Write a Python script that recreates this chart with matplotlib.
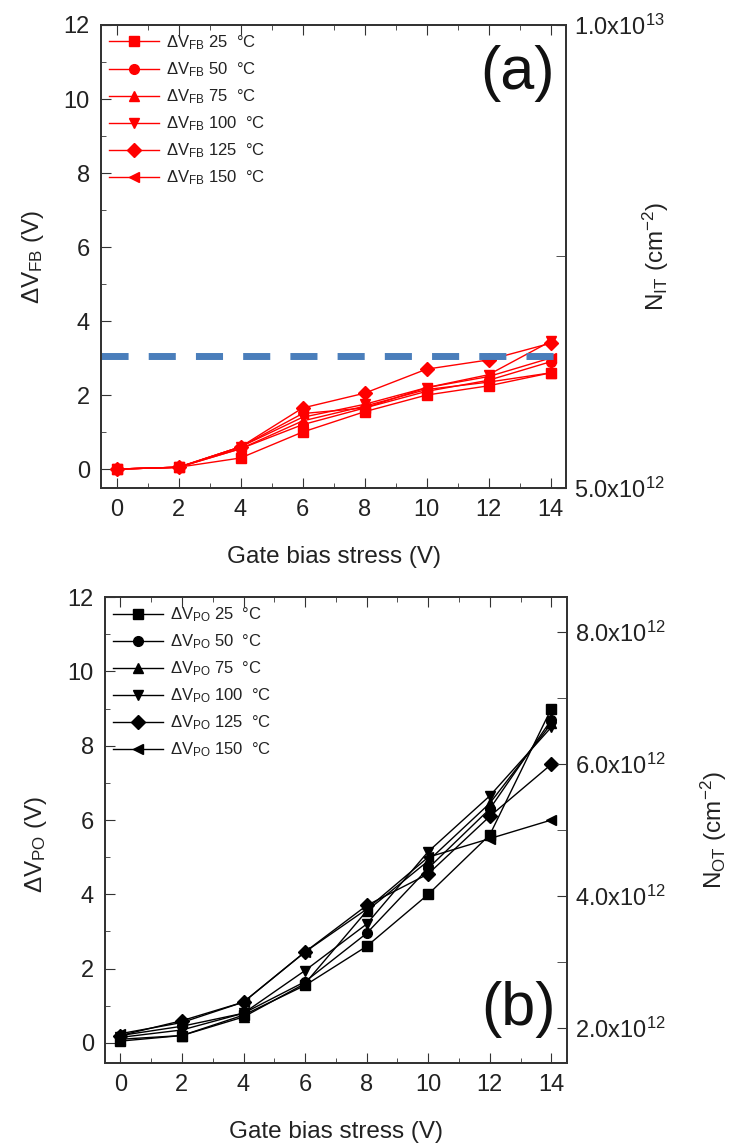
import matplotlib
matplotlib.use("Agg")
import matplotlib.pyplot as plt
from matplotlib.ticker import MultipleLocator, FixedLocator, FuncFormatter

plt.rcParams["font.family"] = ["Liberation Sans", "DejaVu Sans"]
plt.rcParams["mathtext.default"] = "regular"

# Data
stress = [0, 2, 4, 6, 8, 10, 12, 14]
temps = ["25", "50", "75", "100", "125", "150"]
markers = ["s", "o", "^", "v", "D", "<"]

dvfb_25 = [0.0, 0.05, 0.30, 1.00, 1.55, 2.00, 2.25, 2.60]
dvfb_50 = [0.0, 0.05, 0.55, 1.20, 1.65, 2.10, 2.40, 2.90]
dvfb_75 = [0.0, 0.05, 0.55, 1.30, 1.70, 2.15, 2.35, 2.60]
dvfb_100 = [0.0, 0.05, 0.60, 1.40, 1.75, 2.20, 2.55, 3.45]
dvfb_125 = [0.0, 0.05, 0.60, 1.65, 2.05, 2.70, 2.95, 3.40]
dvfb_150 = [0.0, 0.05, 0.60, 1.50, 1.65, 2.20, 2.50, 3.00]
dvfb = [dvfb_25, dvfb_50, dvfb_75, dvfb_100, dvfb_125, dvfb_150]

dvpo_25 = [0.05, 0.20, 0.75, 1.55, 2.60, 4.00, 5.60, 9.00]
dvpo_50 = [0.20, 0.45, 0.80, 1.65, 2.95, 4.70, 6.30, 8.70]
dvpo_75 = [0.10, 0.20, 0.70, 1.60, 3.55, 4.90, 6.45, 8.60]
dvpo_100 = [0.15, 0.35, 0.80, 1.95, 3.20, 5.15, 6.65, 8.50]
dvpo_125 = [0.20, 0.60, 1.10, 2.45, 3.70, 4.55, 6.10, 7.50]
dvpo_150 = [0.25, 0.55, 1.10, 2.45, 3.60, 5.00, 5.50, 6.00]
dvpo = [dvpo_25, dvpo_50, dvpo_75, dvpo_100, dvpo_125, dvpo_150]

threshold = 3.05

fig = plt.figure(figsize=(7.33, 11.46), dpi=100)
ax1 = fig.add_axes([0.1378, 0.5742, 0.6344, 0.404])
ax2 = fig.add_axes([0.1432, 0.0724, 0.630, 0.4066])

frame_col = "#333333"
text_col = "#222222"
TICK_FS = 17
LABEL_FS = 17.5


def style_spines(ax):
    for sp in ax.spines.values():
        sp.set_color(frame_col)
        sp.set_linewidth(1.3)


def style_axis(ax):
    ax.set_xlim(-0.5, 14.5)
    ax.xaxis.set_major_locator(MultipleLocator(2))
    ax.xaxis.set_minor_locator(MultipleLocator(1))
    ax.yaxis.set_major_locator(MultipleLocator(2))
    ax.yaxis.set_minor_locator(MultipleLocator(1))
    ax.tick_params(which="both", direction="in", top=True, right=False,
                   colors=frame_col, labelcolor=text_col, labelsize=TICK_FS)
    ax.tick_params(which="major", length=7, pad=8)
    ax.tick_params(which="minor", length=3.5, pad=8)
    style_spines(ax)
    ax.set_xlabel("Gate bias stress (V)", fontsize=LABEL_FS, color=text_col)
    ax.xaxis.set_label_coords(0.5, -0.125)


def sci_fmt(v, pos):
    exp = len(str(int(round(v)))) - 1
    return "%.1fx10$^{%d}$" % (v / 10 ** exp, exp)


def style_right(r):
    r.yaxis.set_major_formatter(FuncFormatter(sci_fmt))
    r.tick_params(which="both", direction="in", colors=frame_col,
                  labelcolor=text_col, labelsize=TICK_FS, length=7, pad=6)
    style_spines(r)


leg_kw = dict(loc="upper left", frameon=False, fontsize=12, handlelength=3.0,
              labelspacing=0.5, borderaxespad=0.0, borderpad=0.5,
              handletextpad=0.4, labelcolor=text_col)

# (a) flat-band voltage shift
for vals, t, m in zip(dvfb, temps, markers):
    ax1.plot(stress, vals, color="red", linewidth=1, marker=m, markersize=7,
             label="ΔV$_{FB}$ %s  °C" % t)
ax1.axhline(threshold, color="#4a7ebb", linewidth=5, linestyle=(0, (3.9, 2.9)))
style_axis(ax1)
ax1.set_ylim(-0.51, 12.0)
ax1.set_ylabel("ΔV$_{FB}$ (V)", fontsize=LABEL_FS, color=text_col)
ax1.yaxis.set_label_coords(-0.118, 0.5)
ax1.legend(**leg_kw)
ax1.text(0.895, 0.895, "(a)", transform=ax1.transAxes, fontsize=44,
         ha="center", va="center", color="#111111")

r1 = ax1.twinx()
r1.set_position(ax1.get_position())
r1.set_ylim(5e12, 1e13)
r1.yaxis.set_major_locator(FixedLocator([5e12, 1e13]))
r1.yaxis.set_minor_locator(FixedLocator([7.5e12]))
style_right(r1)
r1.set_ylabel("N$_{IT}$ (cm$^{-2}$)", fontsize=LABEL_FS, color=text_col)
r1.yaxis.set_label_coords(1.161, 0.5)

# (b) positive oxide charge voltage shift
for vals, t, m in zip(dvpo, temps, markers):
    ax2.plot(stress, vals, color="black", linewidth=1, marker=m, markersize=7,
             label="ΔV$_{PO}$ %s  °C" % t)
style_axis(ax2)
ax2.set_ylim(-0.54, 12.0)
ax2.set_ylabel("ΔV$_{PO}$ (V)", fontsize=LABEL_FS, color=text_col)
ax2.yaxis.set_label_coords(-0.121, 0.47)
ax2.legend(**leg_kw)
ax2.text(0.895, 0.115, "(b)", transform=ax2.transAxes, fontsize=44,
         ha="center", va="center", color="#111111")

r2 = ax2.twinx()
r2.set_position(ax2.get_position())
r2.set_ylim(1.47e12, 8.53e12)
r2.yaxis.set_major_locator(MultipleLocator(2e12))
r2.yaxis.set_minor_locator(MultipleLocator(1e12))
style_right(r2)
r2.set_ylabel("N$_{OT}$ (cm$^{-2}$)", fontsize=LABEL_FS, color=text_col)
r2.yaxis.set_label_coords(1.285, 0.5)

fig.savefig("out.png", dpi=100)
